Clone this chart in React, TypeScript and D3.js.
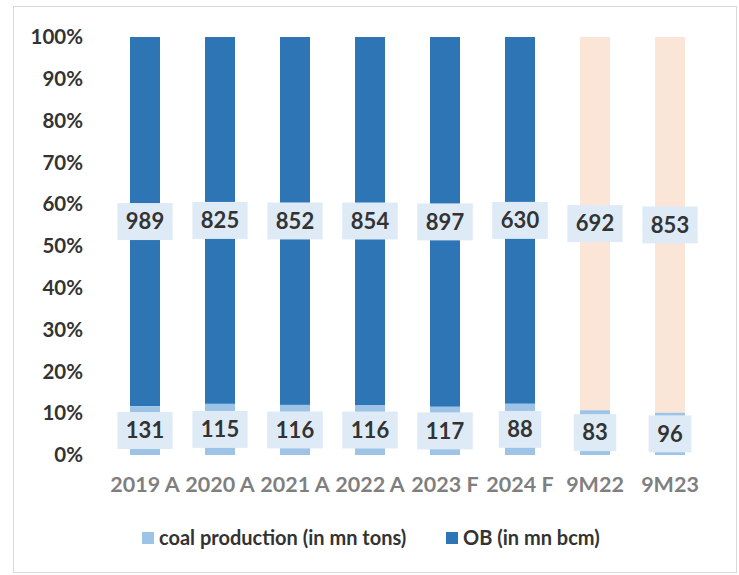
import React, { useEffect, useRef } from 'react';
import * as d3 from 'd3';

const categories = ['2019 A', '2020 A', '2021 A', '2022 A', '2023 F', '2024 F', '9M22', '9M23'];
const coalValues = [131, 115, 116, 116, 117, 88, 83, 96];
const obValues = [989, 825, 852, 854, 897, 630, 692, 853];
const yTicks = [0, 0.1, 0.2, 0.3, 0.4, 0.5, 0.6, 0.7, 0.8, 0.9, 1];
const seriesNames = ['coal production (in mn tons)', 'OB (in mn bcm)'];

const W = 739;
const H = 575;
const FONT = 'Lato, "Open Sans", sans-serif';

const App = () => {
    const ref = useRef<SVGSVGElement>(null);

    useEffect(() => {
        const svg = d3.select(ref.current);
        svg.selectAll('*').remove();

        // chart frame
        svg.append('rect')
            .attr('x', 13.5).attr('y', 6.5)
            .attr('width', 723).attr('height', 566)
            .attr('fill', '#fff')
            .attr('stroke', '#d9d9d9');

        const x = d3.scaleBand()
            .domain(categories)
            .range([107.5, 707.5])
            .paddingInner(0.6)
            .paddingOuter(0.3);

        const y = d3.scaleLinear().domain([0, 1]).range([455, 37]);

        // y tick labels
        svg.append('g')
            .selectAll('text')
            .data(yTicks)
            .enter()
            .append('text')
            .attr('x', 83)
            .attr('y', (d) => y(d))
            .attr('dy', '0.35em')
            .attr('text-anchor', 'end')
            .style('font-family', FONT)
            .style('font-weight', 'bold')
            .style('font-size', '20.5px')
            .style('fill', '#333')
            .text((d) => d3.format('.0%')(d));

        const rows = categories.map((c, i) => {
            const total = coalValues[i] + obValues[i];
            return { cat: c, i, coal: coalValues[i], ob: obValues[i], coalShare: coalValues[i] / total };
        });

        const bars = svg.append('g');
        // OB segments
        bars.selectAll('rect.ob')
            .data(rows)
            .enter()
            .append('rect')
            .attr('x', (d) => x(d.cat))
            .attr('width', x.bandwidth())
            .attr('y', y(1))
            .attr('height', (d) => y(d.coalShare) - y(1))
            .style('fill', (d) => (d.i >= 6 ? '#fbe5d6' : '#2e75b6'));
        // coal segments
        bars.selectAll('rect.coal')
            .data(rows)
            .enter()
            .append('rect')
            .attr('x', (d) => x(d.cat))
            .attr('width', x.bandwidth())
            .attr('y', (d) => y(d.coalShare))
            .attr('height', (d) => y(0) - y(d.coalShare))
            .style('fill', '#9dc3e6');

        // data labels with boxes
        const addLabel = (cx: number, cy: number, txt: string) => {
            const g = svg.append('g');
            const t = g.append('text')
                .attr('x', cx)
                .attr('y', cy)
                .attr('dy', '0.35em')
                .attr('text-anchor', 'middle')
                .style('font-family', FONT)
                .style('font-weight', 'bold')
                .style('font-size', '22px')
                .style('fill', '#333')
                .text(txt);
            const bb = (t.node() as SVGTextElement).getBBox();
            g.insert('rect', 'text')
                .attr('x', cx - bb.width / 2 - 8.5)
                .attr('y', cy - 18.5)
                .attr('width', bb.width + 17)
                .attr('height', 37)
                .style('fill', '#deebf7');
        };

        rows.forEach((d) => {
            const cx = x(d.cat)! + x.bandwidth() / 2;
            addLabel(cx, (y(0) + y(d.coalShare)) / 2, String(d.coal));
            addLabel(cx, (y(1) + y(d.coalShare)) / 2, String(d.ob));
        });

        // x labels
        svg.append('g')
            .selectAll('text')
            .data(categories)
            .enter()
            .append('text')
            .attr('x', (d) => x(d)! + x.bandwidth() / 2)
            .attr('y', 492)
            .attr('text-anchor', 'middle')
            .style('font-family', FONT)
            .style('font-weight', 'bold')
            .style('font-size', '21.5px')
            .style('fill', '#7f7f7f')
            .text((d) => d);

        // legend
        const legendItems = [
            { name: seriesNames[0], color: '#9dc3e6', x: 142 },
            { name: seriesNames[1], color: '#2e75b6', x: 446 },
        ];
        const lg = svg.append('g');
        legendItems.forEach((it) => {
            lg.append('rect')
                .attr('x', it.x).attr('y', 532)
                .attr('width', 12).attr('height', 12)
                .style('fill', it.color);
            lg.append('text')
                .attr('x', it.x + 17)
                .attr('y', 538)
                .attr('dy', '0.35em')
                .style('font-family', FONT)
                .style('font-weight', 'bold')
                .style('font-size', '20px')
                .style('fill', '#333')
                .text(it.name);
        });
    }, []);

    return (
        <svg ref={ref} width={W} height={H} style={{ position: 'absolute', left: 0, top: 0 }} />
    );
};

export default App;
